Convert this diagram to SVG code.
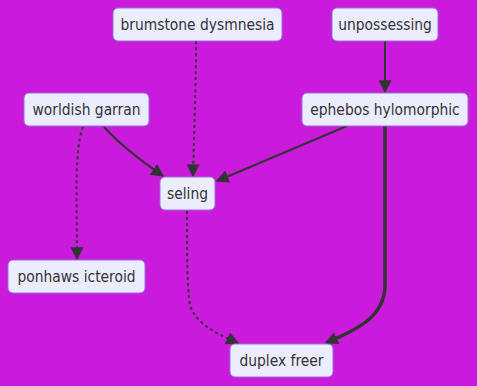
<svg xmlns="http://www.w3.org/2000/svg" width="477" height="386" viewBox="0 0 477 386">
  <style>
    .node rect { fill: #ECECFF; stroke: #9370DB; stroke-width: 1; }
    .node text { font-family: "DejaVu Sans Condensed", "DejaVu Sans", sans-serif; font-stretch: condensed; font-size: 15.4px; fill: #333; text-anchor: middle; dominant-baseline: central; }
    .edge { fill: none; stroke: #333; stroke-width: 2; }
    .dotted { stroke-dasharray: 3 3; }
    .thick { stroke-width: 3.5; }
  </style>
  <defs>
    <marker id="arrowBig" viewBox="0 0 10 10" refX="9" refY="5" markerWidth="13" markerHeight="13" markerUnits="userSpaceOnUse" orient="auto">
      <path d="M0,0 L10,5 L0,10 z" fill="#333"/>
    </marker>
  </defs>
  <rect width="477" height="386" fill="#CA1BDC"/>

  <g id="connectors">
    <path class="edge dotted" d="M196,41 C196,90 194,130 193,176" marker-end="url(#arrowBig)"/>
    <path class="edge" d="M385,41 L385,92" marker-end="url(#arrowBig)"/>
    <path class="edge" d="M104,127 C120,145 140,160 163,176" marker-end="url(#arrowBig)"/>
    <path class="edge" d="M347,126 L217,181" marker-end="url(#arrowBig)"/>
    <path class="edge dotted" d="M83,127 C74,150 77,200 77,259" marker-end="url(#arrowBig)"/>
    <path class="edge dotted" d="M187,211 C187,250 187,290 190,305 C196,325 220,335 238,343" marker-end="url(#arrowBig)"/>
    <path class="edge thick" d="M385,126 L385,285 C385,320 350,332 326,343" marker-end="url(#arrowBig)"/>
  </g>

  <g id="brumstone-dysmnesia" class="node">
    <rect x="113" y="8" width="169" height="33" rx="5"/>
    <text x="197.5" y="25">brumstone dysmnesia</text>
  </g>
  <g id="unpossessing" class="node">
    <rect x="332" y="8" width="106" height="33" rx="5"/>
    <text x="385" y="25">unpossessing</text>
  </g>
  <g id="worldish-garran" class="node">
    <rect x="24" y="93" width="125" height="33" rx="5"/>
    <text x="86.5" y="110">worldish garran</text>
  </g>
  <g id="ephebos-hylomorphic" class="node">
    <rect x="302" y="93" width="166" height="33" rx="5"/>
    <text x="385" y="110">ephebos hylomorphic</text>
  </g>
  <g id="seling" class="node">
    <rect x="160" y="177" width="55" height="33" rx="5"/>
    <text x="187.5" y="194">seling</text>
  </g>
  <g id="ponhaws-icteroid" class="node">
    <rect x="8" y="260" width="137" height="33" rx="5"/>
    <text x="76.5" y="277">ponhaws icteroid</text>
  </g>
  <g id="duplex-freer" class="node">
    <rect x="230" y="344" width="103" height="33" rx="5"/>
    <text x="281.5" y="361">duplex freer</text>
  </g>
</svg>
